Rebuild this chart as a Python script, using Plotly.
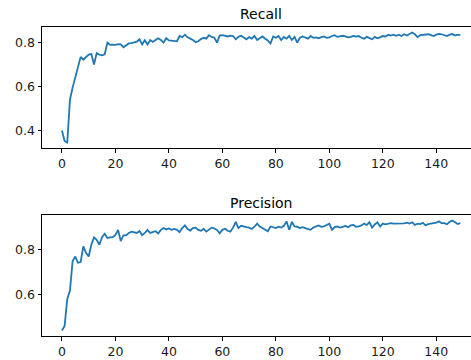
import plotly.graph_objects as go
from plotly.subplots import make_subplots

recall = [
    0.400, 0.352, 0.345, 0.540, 0.595, 0.645, 0.685, 0.735, 0.722, 0.732,
    0.745, 0.748, 0.700, 0.752, 0.745, 0.742, 0.747, 0.800, 0.790, 0.791,
    0.790, 0.793, 0.792, 0.779, 0.786, 0.796, 0.798, 0.800, 0.804, 0.815,
    0.792, 0.811, 0.791, 0.812, 0.803, 0.812, 0.820, 0.812, 0.800, 0.820,
    0.810, 0.809, 0.808, 0.806, 0.830, 0.825, 0.836, 0.824, 0.818, 0.812,
    0.802, 0.806, 0.816, 0.822, 0.818, 0.834, 0.826, 0.822, 0.800, 0.832,
    0.834, 0.830, 0.828, 0.832, 0.830, 0.815, 0.826, 0.831, 0.822, 0.815,
    0.825, 0.818, 0.830, 0.812, 0.820, 0.828, 0.818, 0.810, 0.796, 0.828,
    0.822, 0.830, 0.812, 0.826, 0.818, 0.830, 0.812, 0.826, 0.800, 0.822,
    0.828, 0.822, 0.818, 0.830, 0.822, 0.824, 0.820, 0.825, 0.828, 0.822,
    0.824, 0.830, 0.834, 0.826, 0.829, 0.831, 0.828, 0.824, 0.826, 0.830,
    0.827, 0.830, 0.822, 0.818, 0.826, 0.821, 0.815, 0.826, 0.820, 0.824,
    0.830, 0.828, 0.836, 0.832, 0.836, 0.831, 0.836, 0.830, 0.838, 0.832,
    0.840, 0.846, 0.838, 0.825, 0.834, 0.836, 0.835, 0.838, 0.834, 0.830,
    0.836, 0.840, 0.838, 0.834, 0.830, 0.836, 0.839, 0.832, 0.836, 0.834,
]

precision = [
    0.438, 0.458, 0.580, 0.616, 0.750, 0.770, 0.742, 0.745, 0.816, 0.787,
    0.770, 0.823, 0.856, 0.845, 0.823, 0.857, 0.872, 0.853, 0.856, 0.857,
    0.867, 0.890, 0.840, 0.865, 0.865, 0.876, 0.882, 0.878, 0.876, 0.885,
    0.866, 0.876, 0.890, 0.876, 0.880, 0.884, 0.874, 0.890, 0.898, 0.892,
    0.896, 0.890, 0.894, 0.890, 0.880, 0.898, 0.910, 0.894, 0.887, 0.898,
    0.900, 0.890, 0.886, 0.894, 0.882, 0.890, 0.900, 0.896, 0.890, 0.875,
    0.890, 0.895, 0.886, 0.882, 0.900, 0.926, 0.898, 0.908, 0.904, 0.902,
    0.900, 0.894, 0.904, 0.918, 0.905, 0.898, 0.890, 0.884, 0.905, 0.900,
    0.898, 0.904, 0.900, 0.908, 0.928, 0.890, 0.926, 0.905, 0.904, 0.898,
    0.902, 0.898, 0.894, 0.890, 0.900, 0.905, 0.910, 0.904, 0.906, 0.912,
    0.918, 0.890, 0.902, 0.905, 0.900, 0.903, 0.908, 0.902, 0.910, 0.912,
    0.904, 0.906, 0.910, 0.918, 0.912, 0.924, 0.900, 0.914, 0.924, 0.905,
    0.918, 0.915, 0.918, 0.920, 0.918, 0.918, 0.920, 0.918, 0.919, 0.922,
    0.918, 0.924, 0.912, 0.918, 0.916, 0.922, 0.910, 0.916, 0.918, 0.920,
    0.922, 0.928, 0.920, 0.920, 0.915, 0.926, 0.932, 0.924, 0.916, 0.920,
]

epochs = list(range(len(recall)))
titles = ["Recall", "Precision"]
x_ticks = [0, 20, 40, 60, 80, 100, 120, 140]

FONT = "DejaVu Sans"
LINE = "#1f77b4"
TXT = "#1a1a1a"

W, H = 471, 360
ML, MR, MT, MB = 42, 0, 27, 24
top_ax = (27, 148)
bot_ax = (215, 336)
ph = H - MT - MB


def frac(py):
    return (H - MB - py) / ph


fig = make_subplots(rows=2, cols=1)
for i, ys in enumerate([recall, precision], start=1):
    fig.add_trace(go.Scatter(x=epochs, y=ys, mode="lines",
                             line=dict(color=LINE, width=1.8),
                             showlegend=False), row=i, col=1)


def yrange(vals):
    lo, hi = min(vals), max(vals)
    pad = 0.05 * (hi - lo)
    return [lo - pad, hi + pad]


n = len(epochs) - 1
xpad = 0.05 * n
# matplotlib's right spine lies just past the cropped image edge
xr = [-xpad, -xpad + (W - ML) / 2.674]

axis_common = dict(showline=True, linecolor="black", linewidth=1,
                   ticks="outside", ticklen=3.5, tickwidth=1, tickcolor="black",
                   showgrid=False, zeroline=False,
                   tickfont=dict(family=FONT, size=12.5, color=TXT))

fig.update_layout(
    width=W, height=H,
    margin=dict(l=ML, r=MR, t=MT, b=MB),
    paper_bgcolor="white", plot_bgcolor="white",
    font=dict(family=FONT, color=TXT),
    xaxis=dict(domain=[0, 1], range=xr, tickvals=x_ticks, mirror=True, **axis_common),
    xaxis2=dict(domain=[0, 1], range=xr, tickvals=x_ticks, mirror=True, **axis_common),
    yaxis=dict(domain=[frac(top_ax[1]), frac(top_ax[0])], range=yrange(recall),
               dtick=0.2, tick0=0, tickformat=".1f", **axis_common),
    yaxis2=dict(domain=[frac(bot_ax[1]), frac(bot_ax[0])], range=yrange(precision),
                dtick=0.2, tick0=0, tickformat=".1f", **axis_common),
)

title_x = (261 - ML) / (W - ML)
for t, cy in zip(titles, [14, 203]):
    fig.add_annotation(text=t, x=title_x, y=frac(cy), xref="paper", yref="paper",
                       xanchor="center", yanchor="middle", showarrow=False,
                       font=dict(family=FONT, size=14, color="black"))

fig.write_html("out.html")
